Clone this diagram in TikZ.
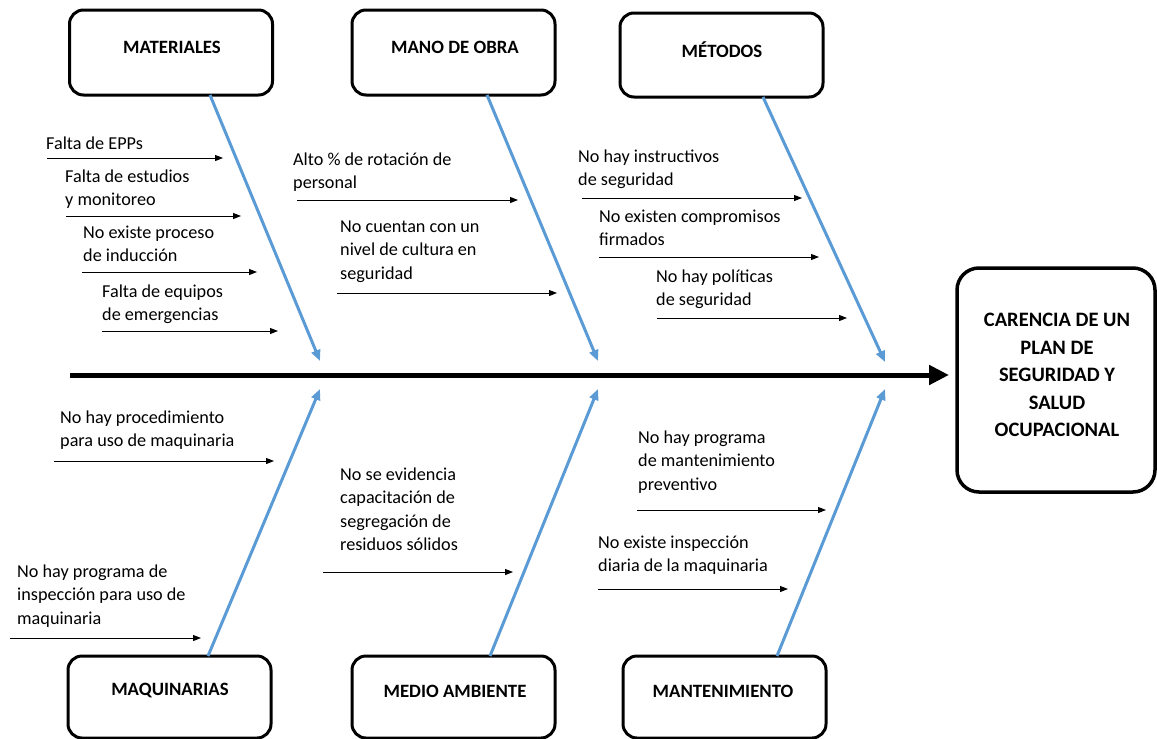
\documentclass[tikz,border=0pt]{standalone}
\usepackage{fontspec}
\setmainfont{Carlito}
\usetikzlibrary{arrows.meta}
\definecolor{fishblue}{RGB}{91,155,213}
\newcommand\causetext[1]{\begin{tabular}[t]{@{}l@{}}#1\end{tabular}}
\begin{document}
\begin{tikzpicture}[x=1pt,y=-1pt,
  catbox/.style={draw, line width=3pt, rounded corners=14pt, minimum width=203pt, inner sep=0pt},
  catlabel/.style={font=\fontsize{18.8}{22}\bfseries\selectfont, inner sep=0pt},
  effectbox/.style={draw, line width=3.5pt, rounded corners=22pt, minimum width=198pt, minimum height=224pt, inner sep=0pt},
  effectlabel/.style={font=\fontsize{20.5}{27.5}\bfseries\selectfont, align=center, inner sep=0pt},
  cause/.style={font=\fontsize{18.2}{23.5}\selectfont, anchor=base west, inner sep=0pt},
  causearrow/.style={line width=1pt, -{Triangle[length=8pt,width=6pt]}},
  bone/.style={draw=fishblue, line width=3pt, -{Triangle[length=11pt,width=9pt]}},
  spine/.style={line width=5pt, -{Triangle[length=20pt,width=19pt]}}
]
\useasboundingbox (0,0) rectangle (1157,739);

% category boxes
\node[catbox, minimum height=85pt] (mat) at (171,52.5) {};
\node[catlabel] (matl) at (172,47) {MATERIALES};
\node[catbox, minimum height=85pt] (mob) at (453.5,52.5) {};
\node[catlabel] (mobl) at (455,47) {MANO DE OBRA};
\node[catbox, minimum height=84pt] (met) at (721.5,55) {};
\node[catlabel] (metl) at (722,50) {MÉTODOS};

\node[catbox, minimum height=82pt] (maq) at (169.5,697) {};
\node[catlabel] (maql) at (170,691) {MAQUINARIAS};
\node[catbox, minimum height=82pt] (med) at (453.5,697) {};
\node[catlabel] (medl) at (455,691) {MEDIO AMBIENTE};
\node[catbox, minimum height=82pt] (man) at (724.5,697) {};
\node[catlabel] (manl) at (723,691) {MANTENIMIENTO};

% effect
\node[effectbox] (eff) at (1056,380) {};
\node[effectlabel] (effl) at (1057,375) {CARENCIA DE UN\\PLAN DE\\SEGURIDAD Y\\SALUD\\OCUPACIONAL};

% spine
\coordinate (sp0) at (70,375);
\coordinate (sp1) at (949,375);
\draw[spine] (sp0) -- (sp1);

% bones
\coordinate (b1s) at (210,95);  \coordinate (b1e) at (320,361);
\coordinate (b2s) at (487,95);  \coordinate (b2e) at (598,361);
\coordinate (b3s) at (763,97);  \coordinate (b3e) at (885,362);
\coordinate (b4s) at (208,656); \coordinate (b4e) at (320,389);
\coordinate (b5s) at (490,656); \coordinate (b5e) at (598,389);
\coordinate (b6s) at (777,656); \coordinate (b6e) at (885,389);
\draw[bone] (b1s) -- (b1e);
\draw[bone] (b2s) -- (b2e);
\draw[bone] (b3s) -- (b3e);
\draw[bone] (b4s) -- (b4e);
\draw[bone] (b5s) -- (b5e);
\draw[bone] (b6s) -- (b6e);

% causes: MATERIALES
\node[cause] (a1) at (46,149) {\causetext{Falta de EPPs}};
\coordinate (a1s) at (47,158); \coordinate (a1e) at (223,158);
\draw[causearrow] (a1s) -- (a1e);
\node[cause] (a2) at (65,182) {\causetext{Falta de estudios\\y monitoreo}};
\coordinate (a2s) at (66,216); \coordinate (a2e) at (241,216);
\draw[causearrow] (a2s) -- (a2e);
\node[cause] (a3) at (83,238) {\causetext{No existe proceso\\de inducción}};
\coordinate (a3s) at (82,272); \coordinate (a3e) at (257,272);
\draw[causearrow] (a3s) -- (a3e);
\node[cause] (a4) at (102,297) {\causetext{Falta de equipos\\de emergencias}};
\coordinate (a4s) at (102,331); \coordinate (a4e) at (278,331);
\draw[causearrow] (a4s) -- (a4e);

% causes: MANO DE OBRA
\node[cause] (b1) at (293,165) {\causetext{Alto \% de rotación de\\personal}};
\coordinate (c1s) at (297,200); \coordinate (c1e) at (518,200);
\draw[causearrow] (c1s) -- (c1e);
\node[cause] (b2) at (340,232) {\causetext{No cuentan con un\\nivel de cultura en\\seguridad}};
\coordinate (c2s) at (337,293); \coordinate (c2e) at (557,293);
\draw[causearrow] (c2s) -- (c2e);

% causes: METODOS
\node[cause] (m1) at (578,162) {\causetext{No hay instructivos\\de seguridad}};
\coordinate (m1s) at (582,198); \coordinate (m1e) at (802,198);
\draw[causearrow] (m1s) -- (m1e);
\node[cause] (m2) at (599,222) {\causetext{No existen compromisos\\firmados}};
\coordinate (m2s) at (599,257); \coordinate (m2e) at (819,257);
\draw[causearrow] (m2s) -- (m2e);
\node[cause] (m3) at (656,282) {\causetext{No hay políticas\\de seguridad}};
\coordinate (m3s) at (657,318); \coordinate (m3e) at (847,318);
\draw[causearrow] (m3s) -- (m3e);

% causes: MAQUINARIAS
\node[cause] (q1) at (60,423) {\causetext{No hay procedimiento\\para uso de maquinaria}};
\coordinate (q1s) at (54,461); \coordinate (q1e) at (274,461);
\draw[causearrow] (q1s) -- (q1e);
\node[cause] (q2) at (17,577) {\causetext{No hay programa de\\inspección para uso de\\maquinaria}};
\coordinate (q2s) at (10,638); \coordinate (q2e) at (201,638);
\draw[causearrow] (q2s) -- (q2e);

% causes: MEDIO AMBIENTE
\node[cause] (e1) at (340,480) {\causetext{No se evidencia\\capacitación de\\segregación de\\residuos sólidos}};
\coordinate (e1s) at (323,572); \coordinate (e1e) at (513,572);
\draw[causearrow] (e1s) -- (e1e);

% causes: MANTENIMIENTO
\node[cause] (t1) at (638,443) {\causetext{No hay programa\\de mantenimiento\\preventivo}};
\coordinate (t1s) at (637,510); \coordinate (t1e) at (826,510);
\draw[causearrow] (t1s) -- (t1e);
\node[cause] (t2) at (598,548) {\causetext{No existe inspección\\diaria de la maquinaria}};
\coordinate (t2s) at (598,589); \coordinate (t2e) at (788,589);
\draw[causearrow] (t2s) -- (t2e);
\end{tikzpicture}
\end{document}
